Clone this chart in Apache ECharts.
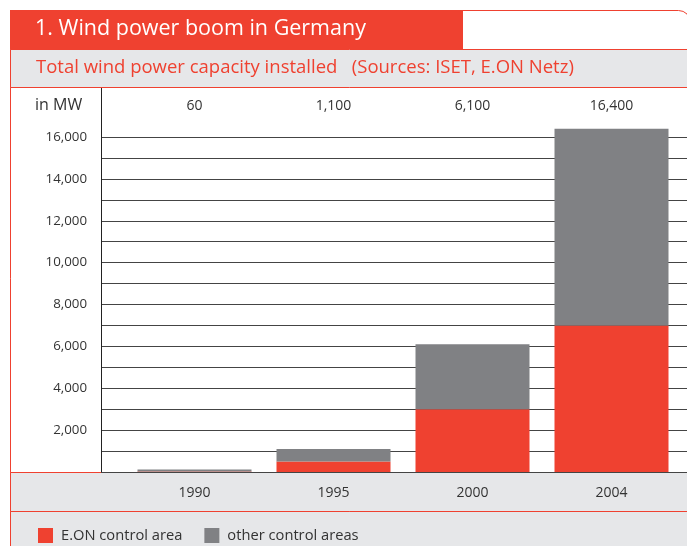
<!DOCTYPE html>
<html lang="en">
<head>
<meta charset="UTF-8">
<title>Wind power boom in Germany</title>
<script src="https://cdn.jsdelivr.net/npm/echarts@6/dist/echarts.min.js"></script>
<style>
    html, body {
        margin: 0;
        padding: 0;
        background: #fff;
    }
    #chart {
        width: 687px;
        height: 546px;
    }
</style>
</head>
<body>
<div id="chart"></div>
<script>
    // data
    var years = ['1990', '1995', '2000', '2004'];
    var totals = ['60', '1,100', '6,100', '16,400'];
    var eonArea = [20, 500, 3000, 7000];
    var otherAreas = [40, 600, 3100, 9400];
    var yMax = 16000;
    var yStep = 1000;      // grid lines
    var yLabelStep = 2000; // labelled lines

    var RED = '#EF4130';
    var GREY = '#808184';
    var BAND = '#E6E7E9';
    var FONT = 'Open Sans';

    var chart = echarts.init(document.getElementById('chart'));

    chart.setOption({
        animation: false,
        textStyle: {fontFamily: FONT},
        title: [
            {
                text: '1. Wind power boom in Germany',
                left: 35, top: 17, padding: 0,
                textStyle: {color: '#fff', fontSize: 21.5, fontWeight: 'normal', lineHeight: 24, fontFamily: FONT}
            },
            {
                text: 'Total wind power capacity installed   (Sources: ISET, E.ON Netz)',
                left: 36, top: 57, padding: 0,
                textStyle: {color: RED, fontSize: 18.5, fontWeight: 'normal', lineHeight: 22, fontFamily: FONT}
            },
            {
                text: 'in MW',
                left: 35, top: 95, padding: 0,
                textStyle: {color: '#333', fontSize: 16, fontWeight: 'normal', lineHeight: 20, fontFamily: FONT}
            }
        ],
        legend: {
            left: 38, top: 528, padding: 0,
            itemWidth: 15, itemHeight: 15, itemGap: 22,
            icon: 'rect',
            textStyle: {color: '#333', fontSize: 14.7, fontFamily: FONT, padding: [0, 0, 0, 3]},
            data: ['E.ON control area', 'other control areas']
        },
        graphic: [
            // frame
            {type: 'rect', z: -10, shape: {x: 10.5, y: 10.5, width: 680, height: 600, r: [0, 12, 0, 0]},
                style: {fill: '#fff', stroke: RED, lineWidth: 1}},
            {type: 'rect', z: -9, shape: {x: 10, y: 10, width: 453, height: 39},
                style: {fill: RED}},
            {type: 'rect', z: -9, shape: {x: 10.5, y: 49.5, width: 690, height: 38},
                style: {fill: BAND, stroke: RED, lineWidth: 1}},
            {type: 'rect', z: -9, shape: {x: 10.5, y: 472.5, width: 690, height: 39},
                style: {fill: BAND, stroke: RED, lineWidth: 1}},
            {type: 'rect', z: -9, shape: {x: 10.5, y: 511.5, width: 690, height: 60},
                style: {fill: BAND, stroke: RED, lineWidth: 1}},
            {type: 'line', z: 50, shape: {x1: 101.5, y1: 88, x2: 101.5, y2: 472},
                style: {stroke: '#222', lineWidth: 1}}
        ],
        grid: [
            {left: 101, right: 0, top: 137, bottom: 74},
            {left: 125, right: 6, top: 137, bottom: 74}
        ],
        xAxis: [
            {gridIndex: 0, type: 'value', show: false},
            {
                gridIndex: 1, type: 'category', position: 'bottom', data: years,
                axisLine: {show: false}, axisTick: {show: false},
                axisLabel: {color: '#333', fontSize: 14, margin: 14, fontFamily: FONT}
            },
            {
                gridIndex: 1, type: 'category', position: 'top', data: totals,
                axisLine: {show: false}, axisTick: {show: false},
                axisLabel: {color: '#333', fontSize: 14, margin: 24, fontFamily: FONT}
            }
        ],
        yAxis: [
            {
                gridIndex: 0, type: 'value', min: 0, max: yMax, interval: yStep,
                axisLine: {show: false}, axisTick: {show: false},
                axisLabel: {
                    color: '#333', fontSize: 13.3, margin: 14, fontFamily: FONT,
                    formatter: function (v) {
                        if (v <= 0 || v % yLabelStep !== 0) return '';
                        return v.toLocaleString('en-US');
                    }
                },
                splitLine: {show: true, lineStyle: {color: '#444', width: 1}}
            },
            {
                gridIndex: 1, type: 'value', min: 0, max: yMax, show: false,
                splitLine: {show: false}
            }
        ],
        series: [
            {
                name: 'E.ON control area', type: 'bar', stack: 'total',
                xAxisIndex: 1, yAxisIndex: 1, barWidth: 114, clip: false,
                itemStyle: {color: RED}, data: eonArea
            },
            {
                name: 'other control areas', type: 'bar', stack: 'total',
                xAxisIndex: 1, yAxisIndex: 1, barWidth: 114, clip: false,
                barMinHeight: 2,
                itemStyle: {color: GREY}, data: otherAreas
            }
        ]
    });
</script>
</body>
</html>
